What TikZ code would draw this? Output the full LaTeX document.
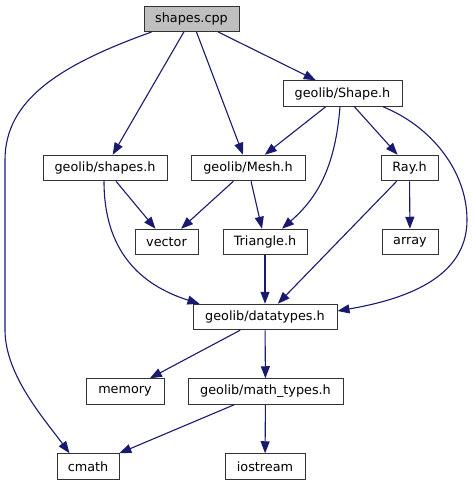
\documentclass[tikz,border=0pt]{standalone}
\usepackage{fontspec}
\setmainfont{DejaVu Sans}
\usepackage{xcolor}
\usepackage{tikz}
\usetikzlibrary{arrows.meta, positioning, calc}
\definecolor{edgeblue}{HTML}{191970}

\begin{document}
\begin{tikzpicture}[
  x=1pt, y=-1pt,
  file/.style={rectangle, draw=black!80, line width=1pt, fill=white, minimum height=25.5pt, inner sep=0pt, font=\fontsize{12.8}{14}\selectfont},
  main/.style={file, fill=black!25},
  >={Triangle[length=12pt, width=9pt]},
  every path/.style={line width=1.1pt},
  inc/.style={draw=edgeblue, fill=none, ->, every arrow/.append style={fill=edgeblue}}
]
  \useasboundingbox (0,0) rectangle (474,485);
  \node[main, minimum width=95pt] (cpp) at (191.5,18.75) {shapes.cpp};
  \node[file, minimum width=119pt] (shape) at (342.5,93.5) {geolib/Shape.h};
  \node[file, minimum width=124pt] (shapesh) at (105,168) {geolib/shapes.h};
  \node[file, minimum width=114pt] (mesh) at (248,168) {geolib/Mesh.h};
  \node[file, minimum width=57pt] (ray) at (409.5,168) {Ray.h};
  \node[file, minimum width=63pt] (vector) at (166.5,242) {vector};
  \node[file, minimum width=84pt] (tri) at (265,242) {Triangle.h};
  \node[file, minimum width=56pt] (array) at (410,242) {array};
  \node[file, minimum width=144pt] (dtypes) at (265,317) {geolib/datatypes.h};
  \node[file, minimum width=78pt] (memory) at (125,391.5) {memory};
  \node[file, minimum width=155pt] (mtypes) at (265.5,391.5) {geolib/math\_types.h};
  \node[file, minimum width=62pt] (cmath) at (88,466.5) {cmath};
  \node[file, minimum width=80pt] (iostream) at (265,466.5) {iostream};

  \draw[inc] (cpp) -- (shapesh);
  \draw[inc] (cpp) -- (mesh);
  \draw[inc] (cpp) -- (shape);
  \draw[inc] ([xshift=8pt]cpp.south west) .. controls +(-92,33) and +(0,-60) .. (5,160) -- (5,330)
    .. controls +(0,45) and +(-25,-34) .. ([xshift=13pt]cmath.north west);
  \draw[inc] (shape) -- (mesh);
  \draw[inc] (shape) -- (ray);
  \draw[inc] ([xshift=-2.5pt]shape.south) .. controls +(-5,64) and +(33,-29) .. ([xshift=17pt]tri.north);
  \draw[inc] ([xshift=40.5pt]shape.south) .. controls +(47,19) and +(0,-50) .. (467,220)
    .. controls +(0,60) and +(63,-11) .. ([yshift=6pt]dtypes.east);
  \draw[inc] (shapesh) -- (vector);
  \draw[inc] ([xshift=-1pt]shapesh.south) .. controls +(0,69) and +(-60,-19) .. ([xshift=7pt]dtypes.north west);
  \draw[inc] (mesh) -- (vector);
  \draw[inc] (mesh) -- (tri);
  \draw[inc] (ray) -- (dtypes);
  \draw[inc] (ray) -- (array);
  \draw[inc] (tri) -- (dtypes);
  \draw[inc] (dtypes) -- (memory);
  \draw[inc] (dtypes) -- (mtypes);
  \draw[inc] (mtypes) -- (cmath);
  \draw[inc] (mtypes) -- (iostream);
\end{tikzpicture}
\end{document}
